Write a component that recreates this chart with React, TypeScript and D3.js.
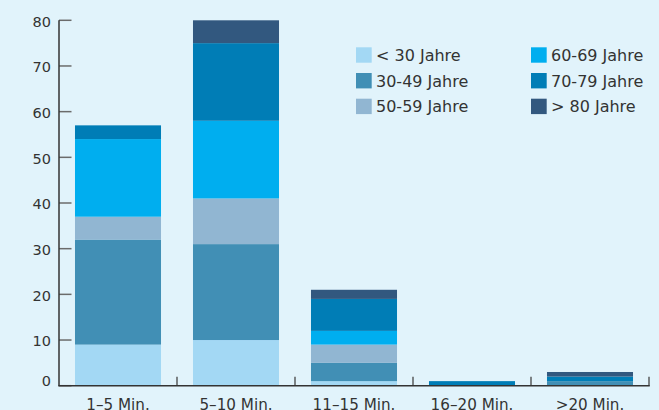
import React from "react";
import * as d3 from "d3";

const categories = ["1–5 Min.", "5–10 Min.", "11–15 Min.", "16–20 Min.", ">20 Min."];
const seriesNames = ["< 30 Jahre", "30-49 Jahre", "50-59 Jahre", "60-69 Jahre", "70-79 Jahre", "> 80 Jahre"];
const under30 = [9, 10, 1, 0, 0];
const age30to49 = [23, 21, 4, 0, 1];
const age50to59 = [5, 10, 4, 0, 0];
const age60to69 = [17, 17, 3, 0, 0];
const age70to79 = [3, 17, 7, 1, 1];
const over80 = [0, 5, 2, 0, 1];
const yTicks = [0, 10, 20, 30, 40, 50, 60, 70, 80];
const colors = ["#a3d8f4", "#418fb5", "#91b6d2", "#00aeef", "#007db6", "#32587f"];

const W = 659, H = 410;
const X0 = 59, X1 = 649, Y0 = 385.7, Y1 = 20.3;
const FONT = "'DejaVu Sans', sans-serif";

export default function App() {
  const series = [under30, age30to49, age50to59, age60to69, age70to79, over80];
  const rows = categories.map((c, i) => {
    const r: any = { cat: c };
    seriesNames.forEach((s, j) => (r[s] = series[j][i]));
    return r;
  });
  const stacked = d3.stack().keys(seriesNames)(rows);
  const x = d3.scaleBand().domain(categories).range([X0, X1]).paddingInner(0.271).paddingOuter(0.1355);
  const y = d3.scaleLinear().domain([0, 80]).range([Y0, Y1]);
  const step = x.step();

  return (
    <svg width={W} height={H} style={{ position: "absolute", left: 0, top: 0, background: "#e1f3fb" }} fontFamily={FONT}>
      <rect x={0} y={0} width={W} height={H} fill="#e1f3fb" />
      {stacked.map((layer, j) =>
        layer.map((d, i) =>
          d[1] - d[0] > 0 ? (
            <rect key={`${j}-${i}`} x={x(categories[i])!} width={x.bandwidth()}
              y={y(d[1])} height={y(d[0]) - y(d[1])} fill={colors[j]} />
          ) : null
        )
      )}
      {yTicks.map((t) => (
        <g key={t}>
          <line x1={X0} x2={X0 + 12.5} y1={y(t)} y2={y(t)} stroke="#6b6b6b" strokeWidth={1.5} />
          <text x={51} y={t === 0 ? Y0 : y(t) + 6.4} textAnchor="end" fontSize={14.5} fill="#333">{t}</text>
        </g>
      ))}
      {categories.map((c, i) => (
        <g key={c}>
          <line x1={X0 + step * (i + 1)} x2={X0 + step * (i + 1)} y1={Y0} y2={Y0 - 9} stroke="#444" strokeWidth={1.3} />
          <text x={x(c)! + x.bandwidth() / 2} y={409.5} textAnchor="middle" fontSize={15.2} fill="#333">{c}</text>
        </g>
      ))}
      <line x1={X0} x2={X0} y1={Y1} y2={Y0} stroke="#333" strokeWidth={1.5} />
      <line x1={X0 - 0.75} x2={X1 + 0.75} y1={Y0} y2={Y0} stroke="#333" strokeWidth={1.5} />
      {seriesNames.map((s, j) => {
        const col = Math.floor(j / 3);
        const row = j % 3;
        const lx = col === 0 ? 356 : 531;
        const ly = 47.3 + row * 25.7;
        return (
          <g key={s}>
            <rect x={lx} y={ly} width={15.7} height={15.4} fill={colors[j]} />
            <text x={lx + 20} y={ly + 13.6} fontSize={16} fill="#333">{s}</text>
          </g>
        );
      })}
    </svg>
  );
}
